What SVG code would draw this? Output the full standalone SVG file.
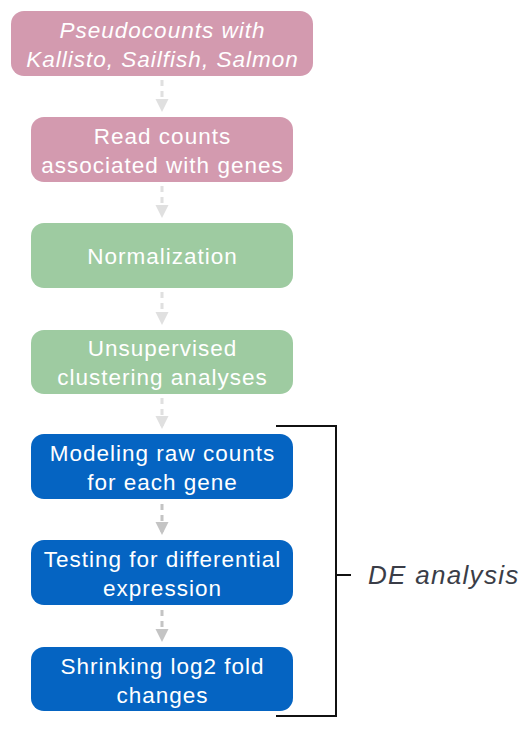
<svg xmlns="http://www.w3.org/2000/svg" width="526" height="729" viewBox="0 0 526 729">
<defs>
<style>
.t{font-family:"Liberation Sans",Arial,sans-serif;font-size:22.5px;fill:#fff;text-anchor:middle;letter-spacing:1px}
.pink{fill:#d39aaf}
.green{fill:#9ecba1}
.blue{fill:#0564c2}
.c1{stroke:#e0e0e0;stroke-width:3;stroke-dasharray:6,5;fill:none}
.c2{stroke:#c4c4c4;stroke-width:3;stroke-dasharray:6,5;fill:none}
</style>
<marker id="a1" viewBox="0 0 10 10" refX="10" refY="5" markerWidth="4.5" markerHeight="4.5" orient="auto" markerUnits="strokeWidth"><path d="M0,0L10,5L0,10z" fill="#e0e0e0"/></marker>
<marker id="a2" viewBox="0 0 10 10" refX="10" refY="5" markerWidth="4.5" markerHeight="4.5" orient="auto" markerUnits="strokeWidth"><path d="M0,0L10,5L0,10z" fill="#c4c4c4"/></marker>
</defs>
<rect width="526" height="729" fill="#fff"/>
<g id="connectors">
<path class="c1" d="M162,80V112" marker-end="url(#a1)"/>
<path class="c1" d="M162,186V218" marker-end="url(#a1)"/>
<path class="c1" d="M162,292V325" marker-end="url(#a1)"/>
<path class="c1" d="M162,398V429" marker-end="url(#a1)"/>
<path class="c2" d="M162,504V535" marker-end="url(#a2)"/>
<path class="c2" d="M162,610V642" marker-end="url(#a2)"/>
</g>
<g id="n1"><rect class="pink" x="11" y="11" width="302" height="65" rx="13"/>
<text class="t" font-style="italic" x="162.5" y="38">Pseudocounts with</text>
<text class="t" font-style="italic" x="162.5" y="67">Kallisto, Sailfish, Salmon</text></g>
<g id="n2"><rect class="pink" x="31" y="117" width="262" height="65" rx="13"/>
<text class="t" x="162.5" y="144">Read counts</text>
<text class="t" x="162.5" y="173">associated with genes</text></g>
<g id="n3"><rect class="green" x="31" y="223" width="262" height="65" rx="13"/>
<text class="t" x="162.5" y="264">Normalization</text></g>
<g id="n4"><rect class="green" x="31" y="330" width="262" height="64" rx="13"/>
<text class="t" x="162.5" y="356">Unsupervised</text>
<text class="t" x="162.5" y="385">clustering analyses</text></g>
<g id="n5"><rect class="blue" x="31" y="434" width="262" height="65" rx="13"/>
<text class="t" x="162.5" y="461">Modeling raw counts</text>
<text class="t" x="162.5" y="490">for each gene</text></g>
<g id="n6"><rect class="blue" x="31" y="540" width="262" height="65" rx="13"/>
<text class="t" x="162.5" y="567">Testing for differential</text>
<text class="t" x="162.5" y="596">expression</text></g>
<g id="n7"><rect class="blue" x="31" y="647" width="262" height="64" rx="13"/>
<text class="t" x="162.5" y="674">Shrinking log2 fold</text>
<text class="t" x="162.5" y="703">changes</text></g>
<g id="bracket">
<path d="M276,426H336V716H276M336,575H351" fill="none" stroke="#111" stroke-width="2"/>
<text x="368" y="584" font-family="'Liberation Sans',Arial,sans-serif" font-size="26" font-style="italic" letter-spacing="1.3" fill="#3a3d47">DE analysis</text>
</g>
</svg>
